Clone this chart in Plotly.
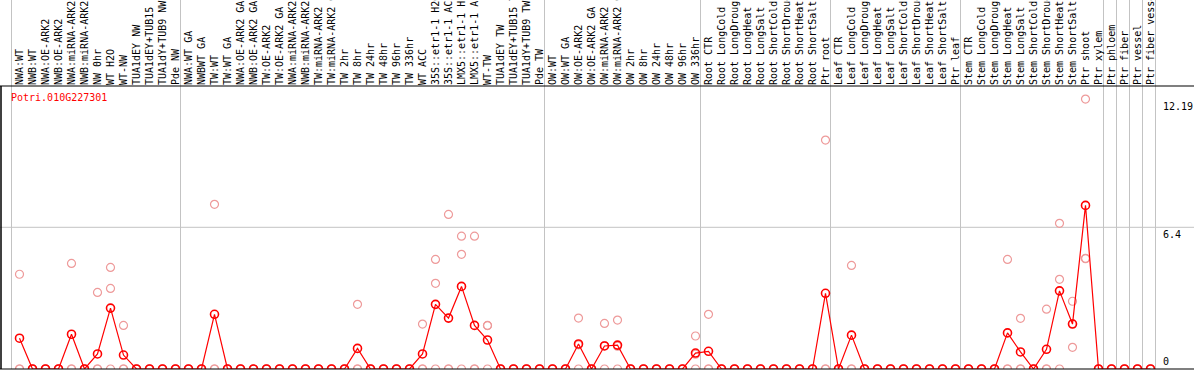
import plotly.graph_objects as go

TITLE = "Potri.010G227301"

CATEGORIES = [
    "NWA:WT", "NWB:WT", "NWA:OE-ARK2", "NWB:OE-ARK2", "NWA:miRNA-ARK2", "NWB:miRNA-ARK2",
    "NW 0hr", "WT H2O", "WT-NW", "TUA1dEY NW", "TUA1dEY+TUB15 NW", "TUA1dY+TUB9 NW", "Pde NW",
    "NWA:WT GA", "NWBWT GA", "TW:WT", "TW:WT GA", "NWA:OE-ARK2 GA", "NWB:OE-ARK2 GA",
    "TW:OE-ARK2", "TW:OE-ARK2 GA", "NWA:miRNA-ARK2 GA", "NWB:miRNA-ARK2 GA", "TW:miRNA-ARK2",
    "TW:miRNA-ARK2 GA", "TW 2hr", "TW 8hr", "TW 24hr", "TW 48hr", "TW 96hr", "TW 336hr", "WT ACC",
    "35S::etr1-1 H2O", "35S::etr1-1 ACC", "LMX5::etr1-1 H2O", "LMX5::etr1-1 ACC", "WT-TW",
    "TUA1dEY TW", "TUA1dEY+TUB15 TW", "TUA1dY+TUB9 TW", "Pde TW",
    "OW:WT", "OW:WT GA", "OW:OE-ARK2", "OW:OE-ARK2 GA", "OW:miRNA-ARK2", "OW:miRNA-ARK2 GA",
    "OW 2hr", "OW 8hr", "OW 24hr", "OW 48hr", "OW 96hr", "OW 336hr",
    "Root CTR", "Root LongCold", "Root LongDrought", "Root LongHeat", "Root LongSalt",
    "Root ShortCold", "Root ShortDrought", "Root ShortHeat", "Root ShortSalt", "Ptr root",
    "Leaf CTR", "Leaf LongCold", "Leaf LongDrought", "Leaf LongHeat", "Leaf LongSalt",
    "Leaf ShortCold", "Leaf ShortDrought", "Leaf ShortHeat", "Leaf ShortSalt", "Ptr leaf",
    "Stem CTR", "Stem LongCold", "Stem LongDrought", "Stem LongHeat", "Stem LongSalt",
    "Stem ShortCold", "Stem ShortDrought", "Stem ShortHeat", "Stem ShortSalt", "Ptr shoot",
    "Ptr xylem", "Ptr phloem", "Ptr fiber", "Ptr vessel", "Ptr fiber vessel",
]

# sizes of the sample groups separated by vertical grid lines
GROUP_SIZES = [13, 28, 12, 10, 10, 11, 1, 1, 1, 1]

MEANS = [
    1.39, 0, 0, 0, 1.57, 0, 0.68, 2.75, 0.63, 0, 0, 0, 0,
    0, 0, 2.47, 0, 0, 0, 0, 0, 0, 0, 0, 0, 0, 0.93, 0, 0, 0, 0, 0.68,
    2.92, 2.30, 3.73, 1.97, 1.31, 0, 0, 0, 0,
    0, 0, 1.13, 0, 1.04, 1.08, 0, 0, 0, 0, 0, 0.72,
    0.80, 0, 0, 0, 0, 0, 0, 0, 0, 3.42,
    0, 1.53, 0, 0, 0, 0, 0, 0, 0, 0,
    0, 0, 0, 1.63, 0.77, 0, 0.89, 3.53, 2.03, 7.39,
    0, 0, 0, 0, 0,
]

REPLICATES = [
    [4.28, 0, 0], [0, 0, 0], [0, 0, 0], [0, 0, 0], [4.77, 0, 0], [0, 0, 0],
    [3.46, 0, 0], [4.59, 3.64, 0], [1.97, 0, 0], [0, 0, 0], [0, 0, 0], [0, 0, 0], [0, 0, 0],
    [0, 0, 0], [0, 0, 0], [7.44, 0, 0], [0, 0, 0], [0, 0, 0], [0, 0, 0],
    [0, 0, 0], [0, 0, 0], [0, 0, 0], [0, 0, 0], [0, 0, 0],
    [0, 0, 0], [0, 0, 0], [2.92, 0, 0], [0, 0, 0], [0, 0, 0], [0, 0, 0], [0, 0, 0], [2.03, 0, 0],
    [4.95, 3.87, 0], [6.98, 0, 0], [6.00, 5.18, 0], [6.00, 0, 0], [1.97, 1.96, 0],
    [0, 0, 0], [0, 0, 0], [0, 0, 0], [0, 0, 0],
    [0, 0, 0], [0, 0, 0], [2.30, 1.09, 0], [0, 0, 0], [2.06, 1.06, 0], [2.21, 1.03, 0],
    [0, 0, 0], [0, 0, 0], [0, 0, 0], [0, 0, 0], [0, 0, 0], [1.49, 0.67, 0],
    [2.47, 0, 0], [0, 0, 0], [0, 0, 0], [0, 0, 0], [0, 0, 0],
    [0, 0, 0], [0, 0, 0], [0, 0, 0], [0, 0, 0], [10.34, 0, 0],
    [0, 0, 0], [4.68, 0, 0], [0, 0, 0], [0, 0, 0], [0, 0, 0],
    [0, 0, 0], [0, 0, 0], [0, 0, 0], [0, 0, 0], [0, 0, 0],
    [0, 0, 0], [0, 0, 0], [0, 0, 0], [4.95, 0, 0], [2.29, 0, 0],
    [0, 0, 0], [2.70, 0, 0], [6.58, 4.05, 0], [3.06, 2.05, 0.98], [12.19, 5.00, 4.98],
    [0, 0, 0], [0, 0, 0], [0, 0, 0], [0, 0, 0], [0, 0, 0],
]

Y_TICKS = [0, 6.4, 12.19]
Y_GRID = [6.4]

# ---------------------------------------------------------------- layout constants
W, H = 1194, 370
M_L, M_R, M_T, M_B = 1, 37, 86, 1
STEP = 13.0            # px per category
FIRST = 19.5           # px of first category centre
BOUND_OFF = -8 / STEP  # grid line offset from category centre
PLOT_W = W - M_L - M_R
PLOT_H = H - M_T - M_B
X0 = (M_L - FIRST) / STEP
X1 = X0 + PLOT_W / STEP
Y_TOP = PLOT_H / 22.14

FONT = "DejaVu Sans Mono"
RED = "#ff0000"
PINK = "#ee9a9a"
GRID = "#c3c3c3"

x_idx = list(range(len(CATEGORIES)))
rep_x, rep_y = [], []
for i, reps in enumerate(REPLICATES):
    for v in reps:
        rep_x.append(i)
        rep_y.append(v)

fig = go.Figure()
fig.add_trace(go.Scatter(
    x=rep_x, y=rep_y, mode="markers",
    marker=dict(symbol="circle-open", size=8, color=PINK, line=dict(width=1.2, color=PINK)),
    hoverinfo="skip", showlegend=False,
))
fig.add_trace(go.Scatter(
    x=x_idx, y=MEANS, mode="lines+markers",
    line=dict(color=RED, width=1.2),
    marker=dict(symbol="circle-open", size=8, color=RED, line=dict(width=1.6, color=RED)),
    showlegend=False,
))

shapes = []
# vertical group separators spanning the full figure height
top_paper = (H - M_B) / PLOT_H
start = 0
bounds = [0]
for s in GROUP_SIZES:
    start += s
    bounds.append(start)
for b in bounds:
    xb = b + BOUND_OFF
    shapes.append(dict(type="line", xref="x", yref="paper", x0=xb, x1=xb, y0=0, y1=top_paper,
                       line=dict(color=GRID, width=1), layer="below"))
# horizontal grid lines spanning the full width
for g in Y_GRID:
    shapes.append(dict(type="line", xref="paper", yref="y", x0=-M_L / PLOT_W, x1=(W - M_L) / PLOT_W,
                       y0=g, y1=g, line=dict(color=GRID, width=1), layer="below"))
# frame lines
for yp in (0, 1):
    shapes.append(dict(type="line", xref="paper", yref="paper", x0=-M_L / PLOT_W, x1=(W - M_L) / PLOT_W,
                       y0=yp, y1=yp, line=dict(color="black", width=1.2), layer="above"))
shapes.append(dict(type="line", xref="paper", yref="paper", x0=0, x1=0, y0=0, y1=1,
                   line=dict(color="black", width=1.5), layer="above"))

annotations = [dict(
    text=TITLE, xref="paper", yref="paper", x=(9.3 - M_L) / PLOT_W, y=(H - M_B - 97) / PLOT_H,
    xanchor="left", yanchor="middle", showarrow=False, font=dict(family=FONT, size=10, color=RED),
)]
for t in Y_TICKS:
    annotations.append(dict(
        text=f"{t:g}", xref="paper", yref="y", x=1, y=t, xanchor="left",
        yanchor="bottom" if t == min(Y_TICKS) else "top", xshift=4, showarrow=False,
        font=dict(family=FONT, size=10, color="black"),
    ))

fig.update_layout(
    width=W, height=H, margin=dict(l=M_L, r=M_R, t=M_T, b=M_B, pad=0),
    paper_bgcolor="white", plot_bgcolor="white",
    shapes=shapes, annotations=annotations,
    xaxis=dict(
        range=[X0, X1], tickmode="array", tickvals=x_idx, ticktext=CATEGORIES,
        side="top", tickangle=-90, ticks="", showgrid=False, zeroline=False, showline=False,
        automargin=False, tickfont=dict(family=FONT, size=10, color="black"),
        ticklabelstandoff=0,
    ),
    yaxis=dict(
        range=[0, Y_TOP], showticklabels=False, ticks="", showgrid=False, zeroline=False,
        showline=False, automargin=False,
    ),
)

fig.write_html(
    "out.html",
    config={"displayModeBar": False},
    post_script="document.body.style.margin='0';document.body.style.overflow='hidden';",
)
